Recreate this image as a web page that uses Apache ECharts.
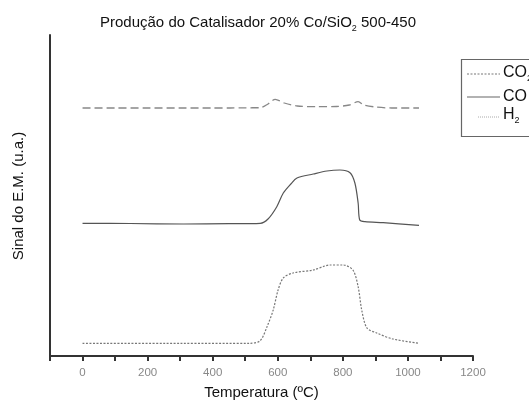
<!DOCTYPE html>
<html><head><meta charset="utf-8">
<script src="https://cdn.jsdelivr.net/npm/echarts@6/dist/echarts.min.js"></script>
<style>html,body{margin:0;padding:0;background:#fff}#c{width:529px;height:405px}</style>
</head><body><div id="c"></div>
<script>
// Data (signal in arbitrary units, x in ºC)
var co2Temp = [0,100,200,300,400,454,500,546,570,592,620,660,720,780,820,847,865,900,950,1034];
var co2Vals = [248,248,248,248,248,248,248.2,248.3,252,256.7,253,250,249.3,249.5,251,254.3,251,249,248,248];
var coTemp = [0,147,310,450,546,570,597,617,640,659,709,751,791,822,837,847,852,868,924,1034];
var coVals = [132.7,132.5,132,132.3,132.7,137,149.3,163,172,178,182,185,186,183.3,173,153,136,134.3,133.3,130.7];
var h2Temp = [0,300,515,546,567,586,601,617,647,709,761,801,831,847,858,874,904,954,1034];
var h2Vals = [12.7,12.7,12.7,15.3,29.3,46,66,78,83,86,91,91,86,69.3,46,28,23,17,12.7];
var xTicks = [0,200,400,600,800,1000,1200];

function pairs(t, v){ return t.map(function(x,i){ return [x, v[i]]; }); }

var chart = echarts.init(document.getElementById('c'));
var font = 'Liberation Sans, Arial, sans-serif';
chart.setOption({
  animation: false,
  backgroundColor: '#fff',
  title: {
    text: 'Produção do Catalisador 20% Co/SiO{sub|2} 500-450',
    left: 95, top: 8,
    textStyle: { fontFamily: font, fontSize: 15, fontWeight: 'normal', color: '#111',
      rich: { sub: { fontFamily: font, fontSize: 9, color: '#111', padding: [11,0,0,0] } } }
  },
  grid: { left: 50, right: 56, top: 35, bottom: 48 },
  xAxis: {
    type: 'value', min: -100, max: 1200, interval: 100,
    name: 'Temperatura (ºC)', nameLocation: 'middle', nameGap: 28,
    nameTextStyle: { fontFamily: font, fontSize: 15, color: '#111' },
    axisLine: { lineStyle: { color: '#333', width: 2 } },
    axisTick: { length: 5, lineStyle: { color: '#333', width: 2 } },
    axisLabel: { fontFamily: font, fontSize: 11.5, color: '#888', margin: 10,
      formatter: function(v){ return xTicks.indexOf(v) >= 0 ? String(v) : ''; } },
    splitLine: { show: false }
  },
  yAxis: {
    type: 'value', min: -1, max: 321,
    name: 'Sinal do E.M. (u.a.)', nameLocation: 'middle', nameGap: 24,
    nameTextStyle: { fontFamily: font, fontSize: 15, color: '#111' },
    axisLine: { show: true, onZero: false, lineStyle: { color: '#333', width: 2 } },
    axisTick: { show: false }, axisLabel: { show: false }, splitLine: { show: false }
  },
  series: [
    { name: 'CO2', type: 'line', data: pairs(co2Temp, co2Vals), smooth: 0.3, symbol: 'none',
      lineStyle: { color: '#888', width: 1.3, type: [8, 4] } },
    { name: 'CO', type: 'line', data: pairs(coTemp, coVals), smooth: 0.3, symbol: 'none',
      lineStyle: { color: '#555', width: 1.2, type: 'solid' } },
    { name: 'H2', type: 'line', data: pairs(h2Temp, h2Vals), smooth: 0.3, symbol: 'none',
      lineStyle: { color: '#777', width: 1.2, type: [2, 1.5] } }
  ],
  graphic: [
    { type: 'rect', shape: { x: 461.5, y: 59.5, width: 100, height: 77 },
      style: { fill: '#fff', stroke: '#666', lineWidth: 1.2 }, z: 10 },
    { type: 'line', shape: { x1: 467, y1: 74, x2: 500, y2: 74 },
      style: { stroke: '#777', lineWidth: 1, lineDash: [2, 1.5] }, z: 11 },
    { type: 'line', shape: { x1: 467, y1: 97, x2: 500, y2: 97 },
      style: { stroke: '#666', lineWidth: 1.2 }, z: 11 },
    { type: 'line', shape: { x1: 478, y1: 117, x2: 500, y2: 117 },
      style: { stroke: '#aaa', lineWidth: 1, lineDash: [1, 1] }, z: 11 },
    { type: 'text', left: 503, top: 65, z: 11,
      style: { text: 'CO{s|2}', font: '16px ' + font, fill: '#111',
        rich: { s: { fontSize: 9, fill: '#111', padding: [12,0,0,0] } } } },
    { type: 'text', left: 503, top: 89, z: 11,
      style: { text: 'CO', font: '16px ' + font, fill: '#111' } },
    { type: 'text', left: 503, top: 107, z: 11,
      style: { text: 'H{s|2}', font: '16px ' + font, fill: '#111',
        rich: { s: { fontSize: 9, fill: '#111', padding: [12,0,0,0] } } } }
  ]
});
</script></body></html>
